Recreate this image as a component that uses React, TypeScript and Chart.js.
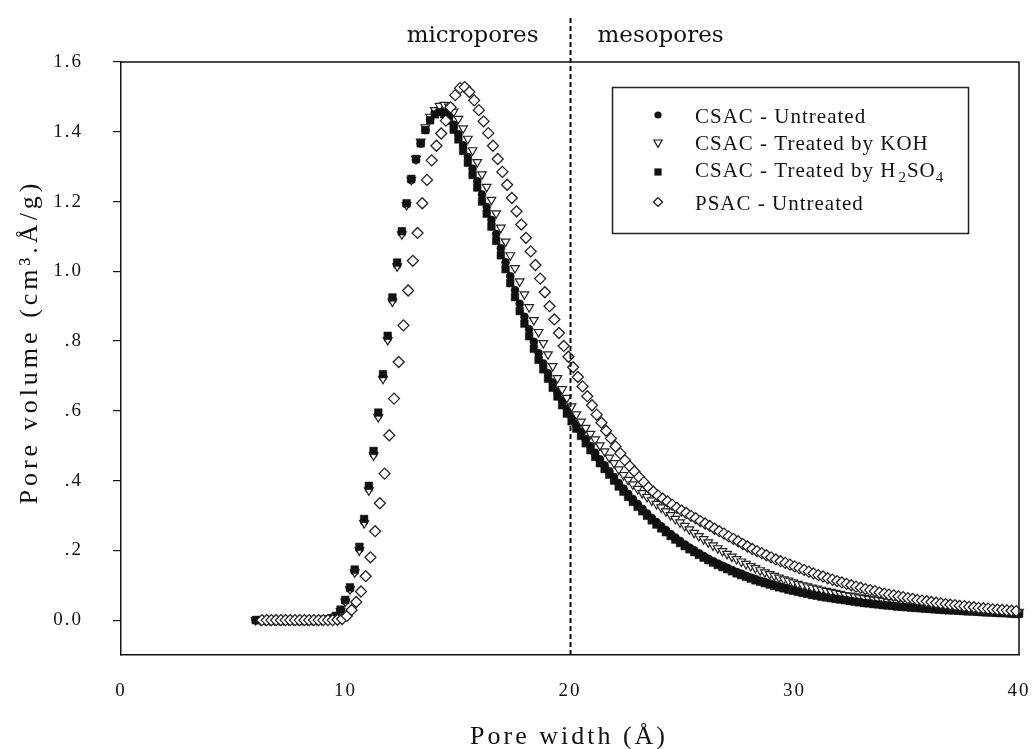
import React, { useEffect, useRef } from 'react';
import { Chart, registerables } from 'chart.js';

Chart.register(...registerables);

// Pore width grid (Å) of the three CSAC samples
const csacWidth = [
  6.00, 6.21, 6.42, 6.63, 6.84, 7.05, 7.26, 7.47, 7.68, 7.89,
  8.10, 8.31, 8.52, 8.73, 8.94, 9.15, 9.36, 9.57, 9.78, 9.99,
  10.20, 10.41, 10.62, 10.83, 11.04, 11.25, 11.46, 11.67, 11.88, 12.09,
  12.30, 12.51, 12.72, 12.93, 13.14, 13.35, 13.56, 13.77, 13.98, 14.19,
  14.40, 14.61, 14.82, 15.03, 15.24, 15.45, 15.66, 15.87, 16.08, 16.29,
  16.50, 16.71, 16.92, 17.13, 17.34, 17.55, 17.76, 17.97, 18.18, 18.39,
  18.60, 18.81, 19.02, 19.23, 19.44, 19.65, 19.86, 20.07, 20.28, 20.49,
  20.70, 20.91, 21.12, 21.33, 21.54, 21.75, 21.96, 22.17, 22.38, 22.59,
  22.80, 23.01, 23.22, 23.43, 23.64, 23.85, 24.06, 24.27, 24.48, 24.69,
  24.90, 25.11, 25.32, 25.53, 25.74, 25.95, 26.16, 26.37, 26.58, 26.79,
  27.00, 27.21, 27.42, 27.63, 27.84, 28.05, 28.26, 28.47, 28.68, 28.89,
  29.10, 29.31, 29.52, 29.73, 29.94, 30.15, 30.36, 30.57, 30.78, 30.99,
  31.20, 31.41, 31.62, 31.83, 32.04, 32.25, 32.46, 32.67, 32.88, 33.09,
  33.30, 33.51, 33.72, 33.93, 34.14, 34.35, 34.56, 34.77, 34.98, 35.19,
  35.40, 35.61, 35.82, 36.03, 36.24, 36.45, 36.66, 36.87, 37.08, 37.29,
  37.50, 37.71, 37.92, 38.13, 38.34, 38.55, 38.76, 38.97, 39.18, 39.39,
  39.60, 39.81, 40.00,
];

// Pore width grid (Å) of the PSAC sample
const psacWidth = [
  6.28, 6.49, 6.70, 6.91, 7.12, 7.33, 7.54, 7.75, 7.96, 8.17,
  8.38, 8.59, 8.80, 9.01, 9.22, 9.43, 9.64, 9.85, 10.06, 10.27,
  10.48, 10.69, 10.90, 11.11, 11.32, 11.53, 11.74, 11.95, 12.16, 12.37,
  12.58, 12.79, 13.00, 13.21, 13.42, 13.63, 13.84, 14.05, 14.26, 14.47,
  14.68, 14.89, 15.10, 15.31, 15.52, 15.73, 15.94, 16.15, 16.36, 16.57,
  16.78, 16.99, 17.20, 17.41, 17.62, 17.83, 18.04, 18.25, 18.46, 18.67,
  18.88, 19.09, 19.30, 19.51, 19.72, 19.93, 20.14, 20.35, 20.56, 20.77,
  20.98, 21.19, 21.40, 21.61, 21.82, 22.03, 22.24, 22.45, 22.66, 22.87,
  23.08, 23.29, 23.50, 23.71, 23.92, 24.13, 24.34, 24.55, 24.76, 24.97,
  25.18, 25.39, 25.60, 25.81, 26.02, 26.23, 26.44, 26.65, 26.86, 27.07,
  27.28, 27.49, 27.70, 27.91, 28.12, 28.33, 28.54, 28.75, 28.96, 29.17,
  29.38, 29.59, 29.80, 30.01, 30.22, 30.43, 30.64, 30.85, 31.06, 31.27,
  31.48, 31.69, 31.90, 32.11, 32.32, 32.53, 32.74, 32.95, 33.16, 33.37,
  33.58, 33.79, 34.00, 34.21, 34.42, 34.63, 34.84, 35.05, 35.26, 35.47,
  35.68, 35.89, 36.10, 36.31, 36.52, 36.73, 36.94, 37.15, 37.36, 37.57,
  37.78, 37.99, 38.20, 38.41, 38.62, 38.83, 39.04, 39.25, 39.46, 39.67,
  39.88,
];

// Pore volume (cm³.Å/g) — CSAC untreated
const csacUntreated = [
  0, 0, 0, 0, 0, 0, 0, 0, 0, 0,
  0, 0, 0, 0, 0.001, 0.002, 0.005, 0.011, 0.028, 0.055,
  0.090, 0.140, 0.204, 0.283, 0.377, 0.477, 0.587, 0.697, 0.808, 0.918,
  1.018, 1.110, 1.192, 1.262, 1.320, 1.366, 1.405, 1.436, 1.454, 1.462,
  1.459, 1.444, 1.420, 1.393, 1.361, 1.328, 1.294, 1.258, 1.220, 1.184,
  1.147, 1.107, 1.066, 1.026, 0.986, 0.946, 0.907, 0.870, 0.834, 0.798,
  0.765, 0.736, 0.708, 0.681, 0.655, 0.630, 0.606, 0.583, 0.561, 0.540,
  0.519, 0.499, 0.480, 0.461, 0.444, 0.427, 0.410, 0.393, 0.377, 0.362,
  0.347, 0.333, 0.319, 0.306, 0.293, 0.281, 0.269, 0.258, 0.247, 0.237,
  0.227, 0.217, 0.208, 0.200, 0.192, 0.184, 0.176, 0.169, 0.162, 0.156,
  0.150, 0.144, 0.138, 0.133, 0.127, 0.122, 0.118, 0.113, 0.109, 0.105,
  0.101, 0.097, 0.093, 0.090, 0.087, 0.083, 0.080, 0.078, 0.075, 0.072,
  0.070, 0.067, 0.065, 0.063, 0.061, 0.059, 0.057, 0.055, 0.053, 0.051,
  0.050, 0.048, 0.047, 0.045, 0.044, 0.042, 0.041, 0.040, 0.039, 0.037,
  0.036, 0.035, 0.034, 0.033, 0.032, 0.031, 0.031, 0.030, 0.029, 0.028,
  0.027, 0.027, 0.026, 0.025, 0.024, 0.024, 0.023, 0.022, 0.022, 0.021,
  0.020, 0.020, 0.019,
];

// Pore volume (cm³.Å/g) — CSAC treated by KOH
const csacKOH = [
  0, 0, 0, 0, 0, 0, 0, 0, 0, 0,
  0, 0, 0, 0, 0.001, 0.002, 0.004, 0.010, 0.026, 0.053,
  0.088, 0.137, 0.200, 0.278, 0.372, 0.472, 0.582, 0.692, 0.803, 0.913,
  1.014, 1.106, 1.190, 1.262, 1.322, 1.372, 1.413, 1.443, 1.462, 1.474,
  1.477, 1.472, 1.458, 1.437, 1.410, 1.380, 1.347, 1.313, 1.278, 1.242,
  1.205, 1.166, 1.125, 1.085, 1.046, 1.009, 0.971, 0.934, 0.897, 0.860,
  0.826, 0.794, 0.762, 0.728, 0.694, 0.662, 0.637, 0.613, 0.590, 0.569,
  0.551, 0.534, 0.518, 0.501, 0.484, 0.466, 0.450, 0.432, 0.416, 0.402,
  0.389, 0.376, 0.364, 0.353, 0.343, 0.333, 0.323, 0.312, 0.301, 0.290,
  0.280, 0.270, 0.260, 0.250, 0.241, 0.232, 0.223, 0.214, 0.206, 0.198,
  0.190, 0.182, 0.175, 0.168, 0.161, 0.155, 0.149, 0.143, 0.137, 0.132,
  0.127, 0.122, 0.117, 0.113, 0.108, 0.104, 0.100, 0.097, 0.093, 0.090,
  0.087, 0.084, 0.081, 0.078, 0.075, 0.072, 0.070, 0.068, 0.065, 0.063,
  0.061, 0.059, 0.057, 0.055, 0.053, 0.051, 0.050, 0.048, 0.047, 0.045,
  0.044, 0.042, 0.041, 0.040, 0.039, 0.038, 0.037, 0.036, 0.035, 0.034,
  0.033, 0.032, 0.031, 0.030, 0.029, 0.029, 0.028, 0.027, 0.026, 0.026,
  0.025, 0.024, 0.024,
];

// Pore volume (cm³.Å/g) — CSAC treated by H2SO4
const csacH2SO4 = [
  0, 0, 0, 0, 0, 0, 0, 0, 0, 0,
  0, 0, 0, 0, 0.001, 0.002, 0.005, 0.012, 0.030, 0.058,
  0.094, 0.145, 0.210, 0.290, 0.385, 0.485, 0.595, 0.705, 0.815, 0.925,
  1.025, 1.115, 1.195, 1.265, 1.322, 1.367, 1.405, 1.433, 1.450, 1.456,
  1.450, 1.432, 1.406, 1.378, 1.345, 1.311, 1.276, 1.240, 1.200, 1.165,
  1.128, 1.087, 1.046, 1.006, 0.966, 0.926, 0.886, 0.850, 0.814, 0.778,
  0.746, 0.719, 0.692, 0.666, 0.641, 0.616, 0.592, 0.570, 0.549, 0.528,
  0.507, 0.487, 0.468, 0.450, 0.433, 0.417, 0.400, 0.383, 0.368, 0.353,
  0.339, 0.325, 0.312, 0.299, 0.286, 0.274, 0.263, 0.252, 0.241, 0.231,
  0.221, 0.212, 0.203, 0.195, 0.187, 0.179, 0.172, 0.165, 0.158, 0.152,
  0.146, 0.140, 0.134, 0.129, 0.124, 0.119, 0.114, 0.110, 0.106, 0.102,
  0.098, 0.094, 0.091, 0.087, 0.084, 0.081, 0.078, 0.075, 0.072, 0.070,
  0.067, 0.065, 0.063, 0.061, 0.059, 0.057, 0.055, 0.053, 0.051, 0.049,
  0.048, 0.046, 0.045, 0.043, 0.042, 0.041, 0.039, 0.038, 0.037, 0.036,
  0.035, 0.034, 0.033, 0.032, 0.031, 0.030, 0.029, 0.028, 0.028, 0.027,
  0.026, 0.025, 0.025, 0.024, 0.023, 0.022, 0.022, 0.021, 0.020, 0.020,
  0.019, 0.018, 0.018,
];

// Pore volume (cm³.Å/g) — PSAC untreated
const psacUntreated = [
  0, 0, 0, 0, 0, 0, 0, 0, 0, 0,
  0, 0, 0, 0, 0, 0, 0.001, 0.003, 0.012, 0.029,
  0.052, 0.082, 0.126, 0.180, 0.255, 0.335, 0.420, 0.530, 0.635, 0.740,
  0.845, 0.945, 1.030, 1.110, 1.195, 1.262, 1.318, 1.360, 1.395, 1.432,
  1.470, 1.505, 1.525, 1.528, 1.514, 1.490, 1.462, 1.430, 1.396, 1.360,
  1.322, 1.285, 1.248, 1.210, 1.172, 1.134, 1.096, 1.057, 1.018, 0.979,
  0.940, 0.900, 0.862, 0.823, 0.786, 0.755, 0.725, 0.697, 0.670, 0.642,
  0.616, 0.589, 0.566, 0.543, 0.521, 0.498, 0.478, 0.458, 0.441, 0.426,
  0.410, 0.395, 0.380, 0.368, 0.357, 0.348, 0.340, 0.331, 0.322, 0.314,
  0.307, 0.299, 0.292, 0.284, 0.277, 0.270, 0.262, 0.255, 0.248, 0.240,
  0.233, 0.226, 0.218, 0.211, 0.204, 0.198, 0.192, 0.186, 0.180, 0.174,
  0.169, 0.164, 0.159, 0.154, 0.149, 0.144, 0.139, 0.134, 0.129, 0.125,
  0.120, 0.116, 0.112, 0.108, 0.104, 0.100, 0.096, 0.093, 0.089, 0.086,
  0.083, 0.079, 0.076, 0.073, 0.071, 0.068, 0.066, 0.063, 0.061, 0.058,
  0.056, 0.054, 0.052, 0.050, 0.048, 0.046, 0.044, 0.043, 0.041, 0.040,
  0.038, 0.037, 0.035, 0.034, 0.033, 0.031, 0.030, 0.029, 0.028, 0.027,
  0.026,
];

const widthTicks = [0, 10, 20, 30, 40];
const widthTickLabels = ['0', '10', '20', '30', '40'];
const volumeTicks = [0, 0.2, 0.4, 0.6, 0.8, 1.0, 1.2, 1.4, 1.6];
const volumeTickLabels = ['0.0', '.2', '.4', '.6', '.8', '1.0', '1.2', '1.4', '1.6'];

// micropore / mesopore boundary (Å)
const boundaryWidth = 20;

const INK = '#111';
const SERIF = '"Liberation Serif", "Times New Roman", serif';

const toPoints = (xs: number[], ys: number[]) =>
  xs.map((x, i) => ({ x, y: ys[i] }));

type Marker = 'circle' | 'triangleDown' | 'square' | 'diamond';

function drawMarker(ctx: CanvasRenderingContext2D, kind: Marker, x: number, y: number) {
  ctx.save();
  ctx.lineWidth = 1.2;
  ctx.strokeStyle = INK;
  ctx.beginPath();
  if (kind === 'circle') {
    ctx.arc(x, y, 3.6, 0, Math.PI * 2);
    ctx.fillStyle = INK;
    ctx.fill();
  } else if (kind === 'square') {
    ctx.rect(x - 3.6, y - 3.6, 7.2, 7.2);
    ctx.fillStyle = INK;
    ctx.fill();
  } else if (kind === 'triangleDown') {
    ctx.moveTo(x - 4.2, y - 3);
    ctx.lineTo(x + 4.2, y - 3);
    ctx.lineTo(x, y + 4.2);
    ctx.closePath();
    ctx.fillStyle = '#fff';
    ctx.fill();
    ctx.stroke();
  } else {
    ctx.moveTo(x - 4.5, y);
    ctx.lineTo(x, y - 4.5);
    ctx.lineTo(x + 4.5, y);
    ctx.lineTo(x, y + 4.5);
    ctx.closePath();
    ctx.fillStyle = '#fff';
    ctx.fill();
    ctx.stroke();
  }
  ctx.restore();
}

const decorations = {
  id: 'decorations',
  beforeDraw(chart: any) {
    const { ctx, width, height } = chart;
    ctx.save();
    ctx.fillStyle = '#fff';
    ctx.fillRect(0, 0, width, height);
    ctx.restore();
    // wide tracking for the tick labels
    (ctx as any).letterSpacing = '2px';
  },
  afterDatasetsDraw(chart: any) {
    const { ctx, chartArea } = chart;
    const xs = chart.scales.x;
    (ctx as any).letterSpacing = '0px';

    // frame: top and right edges
    ctx.save();
    ctx.strokeStyle = INK;
    ctx.lineWidth = 1.5;
    ctx.beginPath();
    ctx.moveTo(chartArea.left, chartArea.top);
    ctx.lineTo(chartArea.right, chartArea.top);
    ctx.lineTo(chartArea.right, chartArea.bottom);
    ctx.stroke();
    ctx.restore();

    // boundary between micropores and mesopores
    const bx = Math.round(xs.getPixelForValue(boundaryWidth)) + 0.5;
    ctx.save();
    ctx.strokeStyle = INK;
    ctx.lineWidth = 2;
    ctx.setLineDash([5, 3]);
    ctx.beginPath();
    ctx.moveTo(bx, 18);
    ctx.lineTo(bx, chartArea.bottom);
    ctx.stroke();
    ctx.restore();

    // region labels
    ctx.save();
    ctx.fillStyle = INK;
    ctx.font = '23px "DejaVu Serif", serif';
    ctx.textBaseline = 'alphabetic';
    ctx.textAlign = 'right';
    ctx.fillText('micropores', bx - 32, 42);
    ctx.textAlign = 'left';
    ctx.fillText('mesopores', bx + 27, 42);
    ctx.restore();
  },
  afterDraw(chart: any) {
    const { ctx } = chart;
    (ctx as any).letterSpacing = '0px';

    // axis titles
    ctx.save();
    ctx.fillStyle = INK;
    ctx.font = `26px ${SERIF}`;
    (ctx as any).letterSpacing = '3px';
    ctx.textAlign = 'center';
    ctx.textBaseline = 'middle';
    ctx.fillText('Pore width (Å)', 569, 737);
    ctx.translate(30, 342);
    ctx.rotate(-Math.PI / 2);
    (ctx as any).letterSpacing = '4px';
    ctx.fillText('Pore volume (cm³.Å/g)', 0, 0);
    ctx.restore();

    // legend
    const box = { left: 612, top: 87, right: 968, bottom: 233 };
    ctx.save();
    ctx.strokeStyle = '#222';
    ctx.lineWidth = 1.5;
    ctx.strokeRect(box.left + 0.5, box.top + 0.5, box.right - box.left, box.bottom - box.top);
    ctx.restore();

    const markerX = 658;
    const textX = 695;
    const rows: { marker: Marker; y: number; base: number }[] = [
      { marker: 'circle', y: 115, base: 123 },
      { marker: 'triangleDown', y: 143, base: 150 },
      { marker: 'square', y: 172, base: 177 },
      { marker: 'diamond', y: 202, base: 210 },
    ];
    rows.forEach((r) => drawMarker(ctx, r.marker, markerX, r.y));

    ctx.save();
    ctx.fillStyle = INK;
    ctx.textAlign = 'left';
    ctx.textBaseline = 'alphabetic';
    (ctx as any).letterSpacing = '1px';
    const big = `21px ${SERIF}`;
    const small = `15px ${SERIF}`;
    ctx.font = big;
    ctx.fillText('CSAC - Untreated', textX, rows[0].base);
    ctx.fillText('CSAC - Treated by KOH', textX, rows[1].base);
    let x = textX;
    const put = (t: string, font: string, dy: number) => {
      ctx.font = font;
      ctx.fillText(t, x, rows[2].base + dy);
      x += ctx.measureText(t).width;
    };
    put('CSAC - Treated by H', big, 0);
    x += 2;
    put('2', small, 5);
    put('SO', big, 0);
    put('4', small, 5);
    ctx.font = big;
    ctx.fillText('PSAC - Untreated', textX, rows[3].base);
    ctx.restore();
  },
};

const zeroPadding = (s: any) => {
  s.paddingLeft = 0;
  s.paddingRight = 0;
  s.paddingTop = 0;
  s.paddingBottom = 0;
};

export default function App() {
  const canvasRef = useRef<HTMLCanvasElement>(null);

  useEffect(() => {
    const canvas = canvasRef.current;
    if (!canvas) return;

    const chart = new Chart(canvas, {
      type: 'scatter',
      data: {
        datasets: [
          {
            label: 'PSAC - Untreated',
            data: toPoints(psacWidth, psacUntreated),
            pointStyle: 'rectRot',
            pointRadius: 5.5,
            pointBackgroundColor: '#fff',
            pointBorderColor: '#222',
            pointBorderWidth: 1.3,
            order: 1,
            clip: false,
          },
          {
            label: 'CSAC - Treated by H2SO4',
            data: toPoints(csacWidth, csacH2SO4),
            pointStyle: 'rect',
            pointRadius: 5.4,
            pointBackgroundColor: INK,
            pointBorderColor: INK,
            pointBorderWidth: 0.5,
            order: 2,
            clip: false,
          },
          {
            label: 'CSAC - Treated by KOH',
            data: toPoints(csacWidth, csacKOH),
            pointStyle: 'triangle',
            pointRotation: 180,
            pointRadius: 5,
            pointBackgroundColor: '#fff',
            pointBorderColor: '#222',
            pointBorderWidth: 1.2,
            order: 3,
            clip: false,
          },
          {
            label: 'CSAC - Untreated',
            data: toPoints(csacWidth, csacUntreated),
            pointStyle: 'circle',
            pointRadius: 4,
            pointBackgroundColor: INK,
            pointBorderColor: INK,
            pointBorderWidth: 0.5,
            order: 4,
            clip: false,
          },
        ],
      },
      options: {
        animation: false,
        responsive: false,
        devicePixelRatio: 1,
        layout: { padding: { top: 62, right: 13, bottom: 0, left: 0 } },
        plugins: {
          legend: { display: false },
          tooltip: { enabled: false },
        },
        scales: {
          x: {
            type: 'linear',
            min: 0,
            max: 40,
            afterFit: (s: any) => {
              s.height = 94;
              zeroPadding(s);
            },
            afterBuildTicks: (s: any) => {
              s.ticks = widthTicks.map((v) => ({ value: v }));
            },
            ticks: {
              autoSkip: false,
              maxRotation: 0,
              padding: 17,
              color: INK,
              font: { family: SERIF, size: 19 },
              callback: (_v: any, i: number) => widthTickLabels[i],
            },
            grid: { display: false },
            border: { display: true, color: INK, width: 1.5 },
          },
          y: {
            type: 'linear',
            min: -0.1,
            max: 1.6,
            afterFit: (s: any) => {
              s.width = 121;
              zeroPadding(s);
            },
            afterBuildTicks: (s: any) => {
              s.ticks = volumeTicks.map((v) => ({ value: v }));
            },
            ticks: {
              autoSkip: false,
              padding: 30,
              color: INK,
              font: { family: SERIF, size: 19 },
              callback: (_v: any, i: number) => volumeTickLabels[i],
            },
            grid: {
              display: true,
              drawOnChartArea: false,
              drawTicks: true,
              tickLength: 8,
              color: INK,
              lineWidth: 1.2,
            },
            border: { display: true, color: INK, width: 1.5 },
          },
        },
      },
      plugins: [decorations],
    } as any);

    return () => {
      chart.destroy();
    };
  }, []);

  return (
    <div
      style={{
        position: 'absolute',
        left: 0,
        top: 0,
        width: 1032,
        height: 749,
        background: '#fff',
      }}
    >
      <canvas ref={canvasRef} width={1032} height={749} style={{ display: 'block' }} />
    </div>
  );
}
